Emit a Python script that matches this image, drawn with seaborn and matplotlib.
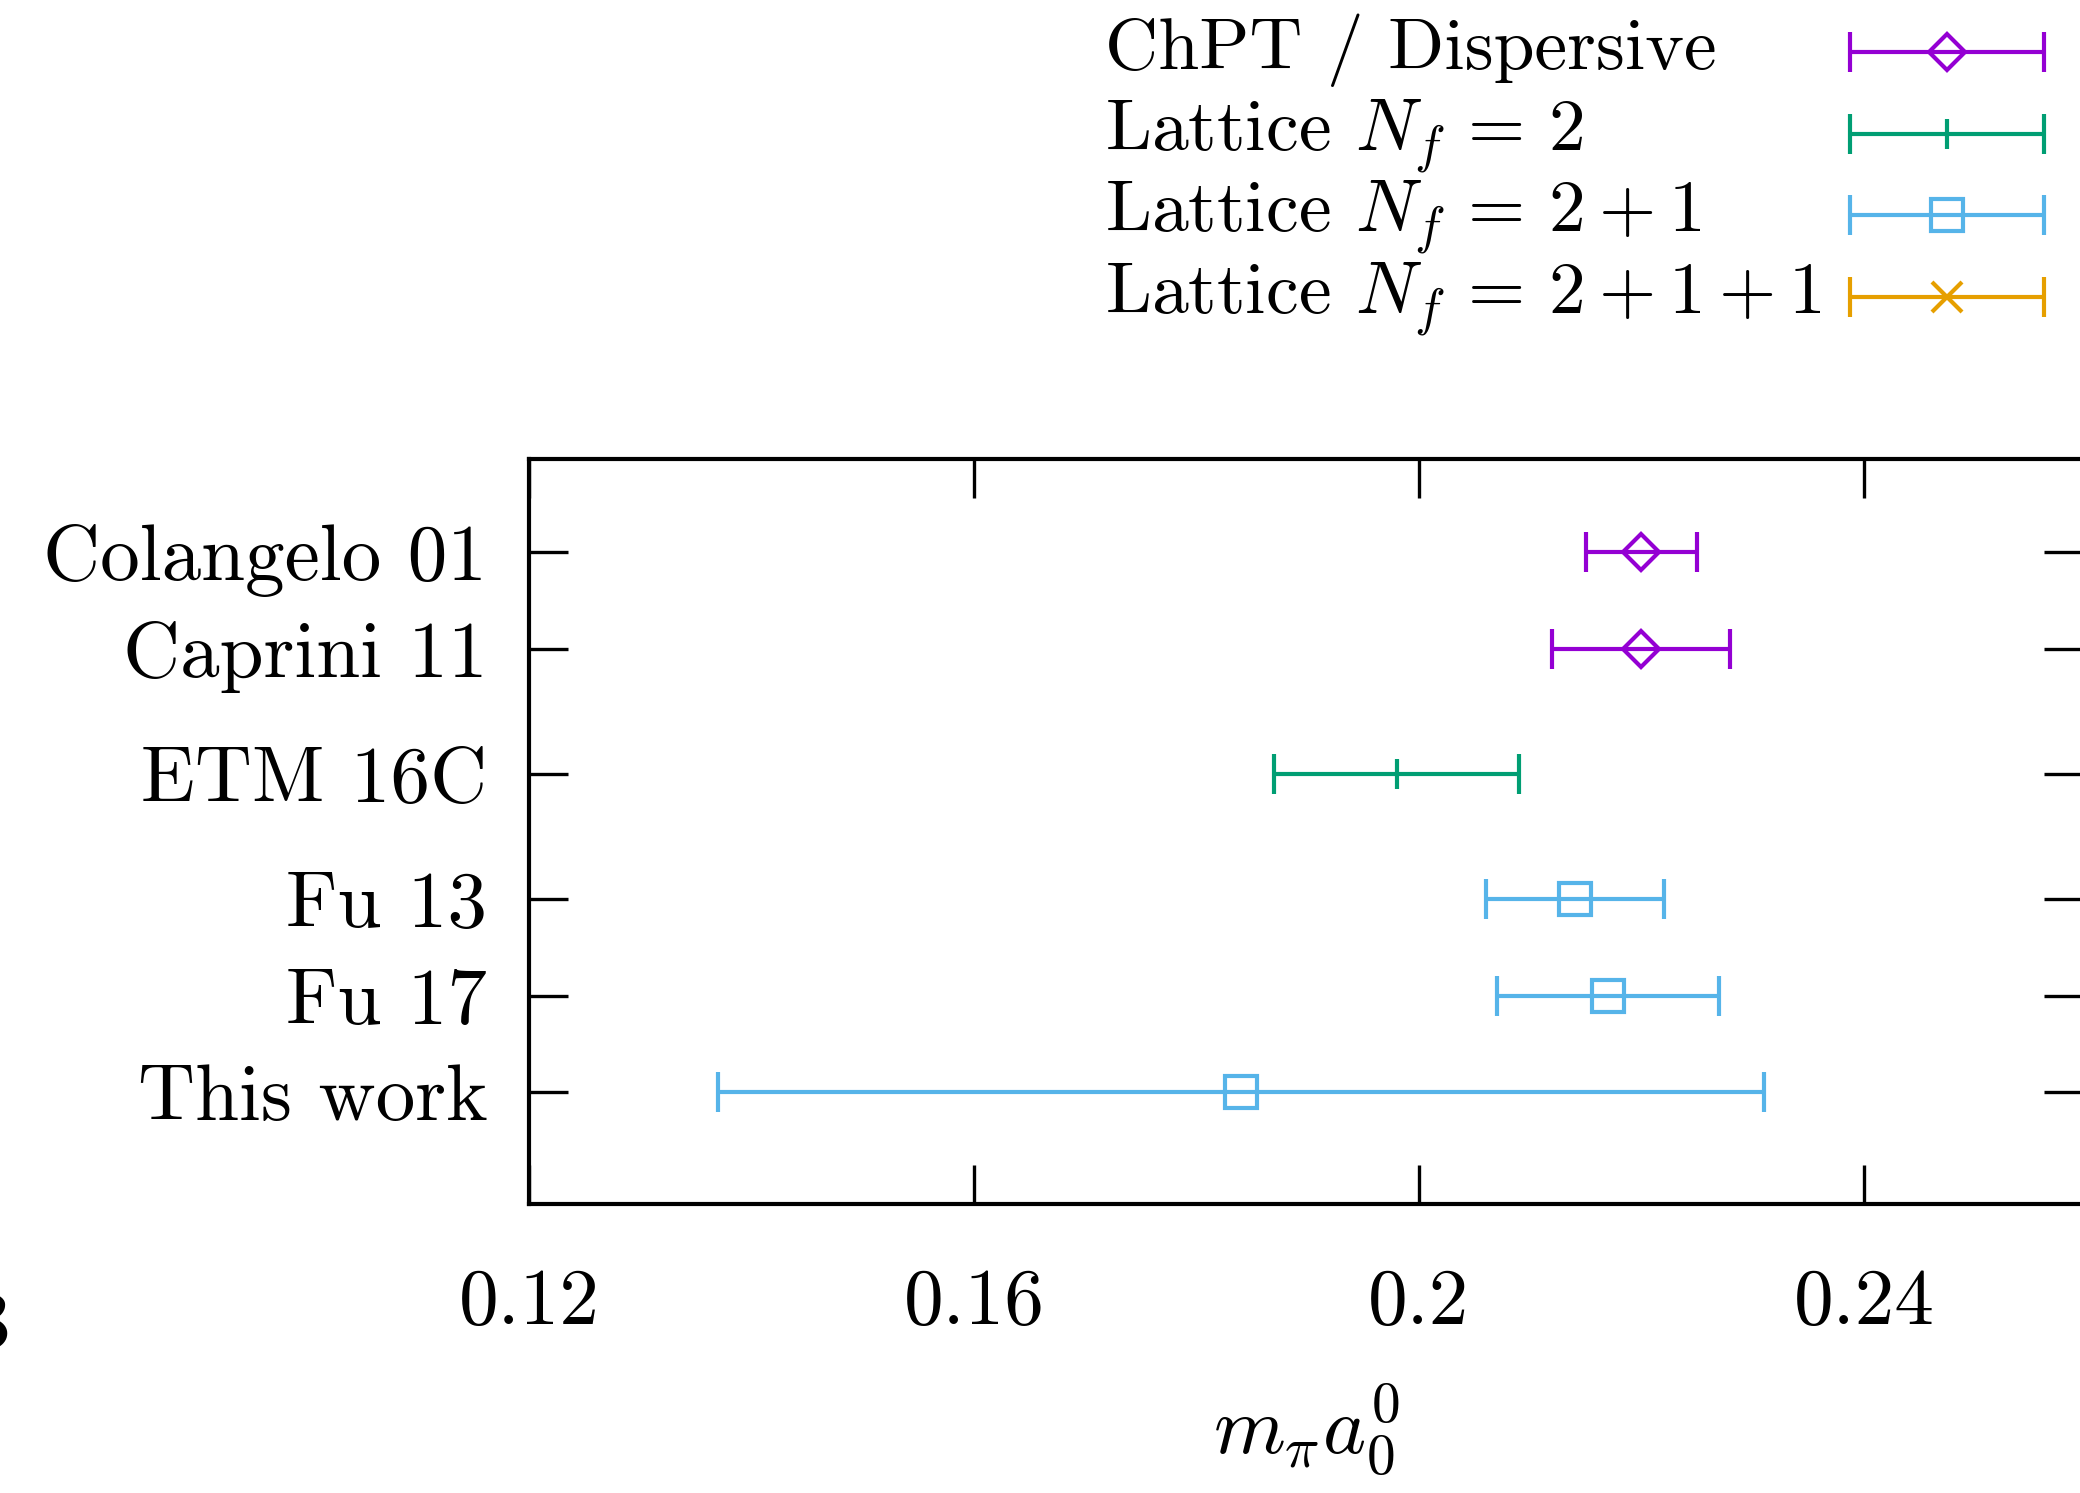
import matplotlib
matplotlib.use("Agg")
import matplotlib.pyplot as plt
import seaborn as sns
import pandas as pd

# Results for the I=0 S-wave scattering length
labels = ["Colangelo 01", "Caprini 11", "ETM 16C", "Fu 13", "Fu 17", "This work"]
values = [0.220, 0.220, 0.198, 0.214, 0.217, 0.184]
errors = [0.005, 0.008, 0.011, 0.008, 0.010, 0.047]
groups = ["ChPT / Dispersive", "ChPT / Dispersive", r"Lattice $N_f\,=\,2$",
          r"Lattice $N_f\,=\,2+1$", r"Lattice $N_f\,=\,2+1$", r"Lattice $N_f\,=\,2+1$"]

group_names = ["ChPT / Dispersive", r"Lattice $N_f\,=\,2$",
               r"Lattice $N_f\,=\,2+1$", r"Lattice $N_f\,=\,2+1+1$"]
group_colors = ["#9400d3", "#009e73", "#56b4e9", "#e69f00"]
group_markers = ["D", "|", "s", "x"]

xticks = [0.12, 0.16, 0.20, 0.24]
xtick_labels = ["0.12", "0.16", "0.2", "0.24"]

sns.set_theme(style="ticks")
plt.rcParams["font.family"] = ["cmr10"]
plt.rcParams["mathtext.fontset"] = "cm"
plt.rcParams["axes.formatter.use_mathtext"] = True
for k in ["text.color", "axes.labelcolor", "xtick.color", "ytick.color", "axes.edgecolor"]:
    plt.rcParams[k] = "black"

df = pd.DataFrame({"label": labels, "value": values, "err": errors, "group": groups})

# vertical placement: unit step inside a group, wider step between groups
ypos, y, prev = [], 0.0, None
for g in groups:
    if prev is not None:
        y -= 1.0 if g == prev else 1.3
    ypos.append(y)
    prev = g
df["y"] = ypos

W, H = 2080, 1493
fig = plt.figure(figsize=(W / 100, H / 100), dpi=100)
ax = fig.add_axes([529 / W, 1 - 1204 / H, (2083 - 529) / W, (1204 - 459) / H])

style = {g: (c, m) for g, c, m in zip(group_names, group_colors, group_markers)}
msize = {"D": 18, "|": 22, "s": 23, "x": 22}
LW = 3.0


def bar_kwargs(c, m):
    return dict(fmt=m, ms=msize[m], mfc="none", mec=c, mew=LW, ecolor=c,
                elinewidth=LW, capsize=14.5, capthick=LW, ls="none", zorder=3)


for g in group_names:
    c, m = style[g]
    sub = df[df["group"] == g]
    if len(sub):
        ax.errorbar(sub["value"], sub["y"], xerr=sub["err"], **bar_kwargs(c, m))

ax.set_xlim(0.12, 0.2597)
ax.set_ylim(df["y"].min() - 1.16, df["y"].max() + 0.97)

ax.set_xticks(xticks)
ax.set_xticklabels(xtick_labels)
ax.set_yticks(df["y"])
ax.set_yticklabels(df["label"])

ax.tick_params(axis="both", direction="in", length=28, width=2.4, color="black",
               labelsize=57, top=True, right=True)
ax.tick_params(axis="x", pad=46)
ax.tick_params(axis="y", pad=30)
for s in ax.spines.values():
    s.set_linewidth(3.0)
    s.set_color("black")
ax.grid(False)

ax.set_xlabel(r"$m_\pi a_0^0$", fontsize=59, labelpad=30)

# key above the plot: label on the left, error-bar sample on the right
kax = fig.add_axes([0, 0, 1, 1], facecolor="none")
kax.set_xlim(0, W)
kax.set_ylim(H, 0)
kax.axis("off")
for i, g in enumerate(group_names):
    c, m = style[g]
    yk = 52 + i * 81.7
    kax.errorbar([1947], [yk], xerr=[97], **bar_kwargs(c, m))
    kax.text(1105, yk + 17, g, fontsize=53, ha="left", va="baseline")

# fragment of a neighbouring panel label at the left border
fig.text(10 / W, 1 - 1327 / H, "3", fontsize=57, ha="right", va="center")

fig.savefig("out.png", dpi=100, facecolor="white")
